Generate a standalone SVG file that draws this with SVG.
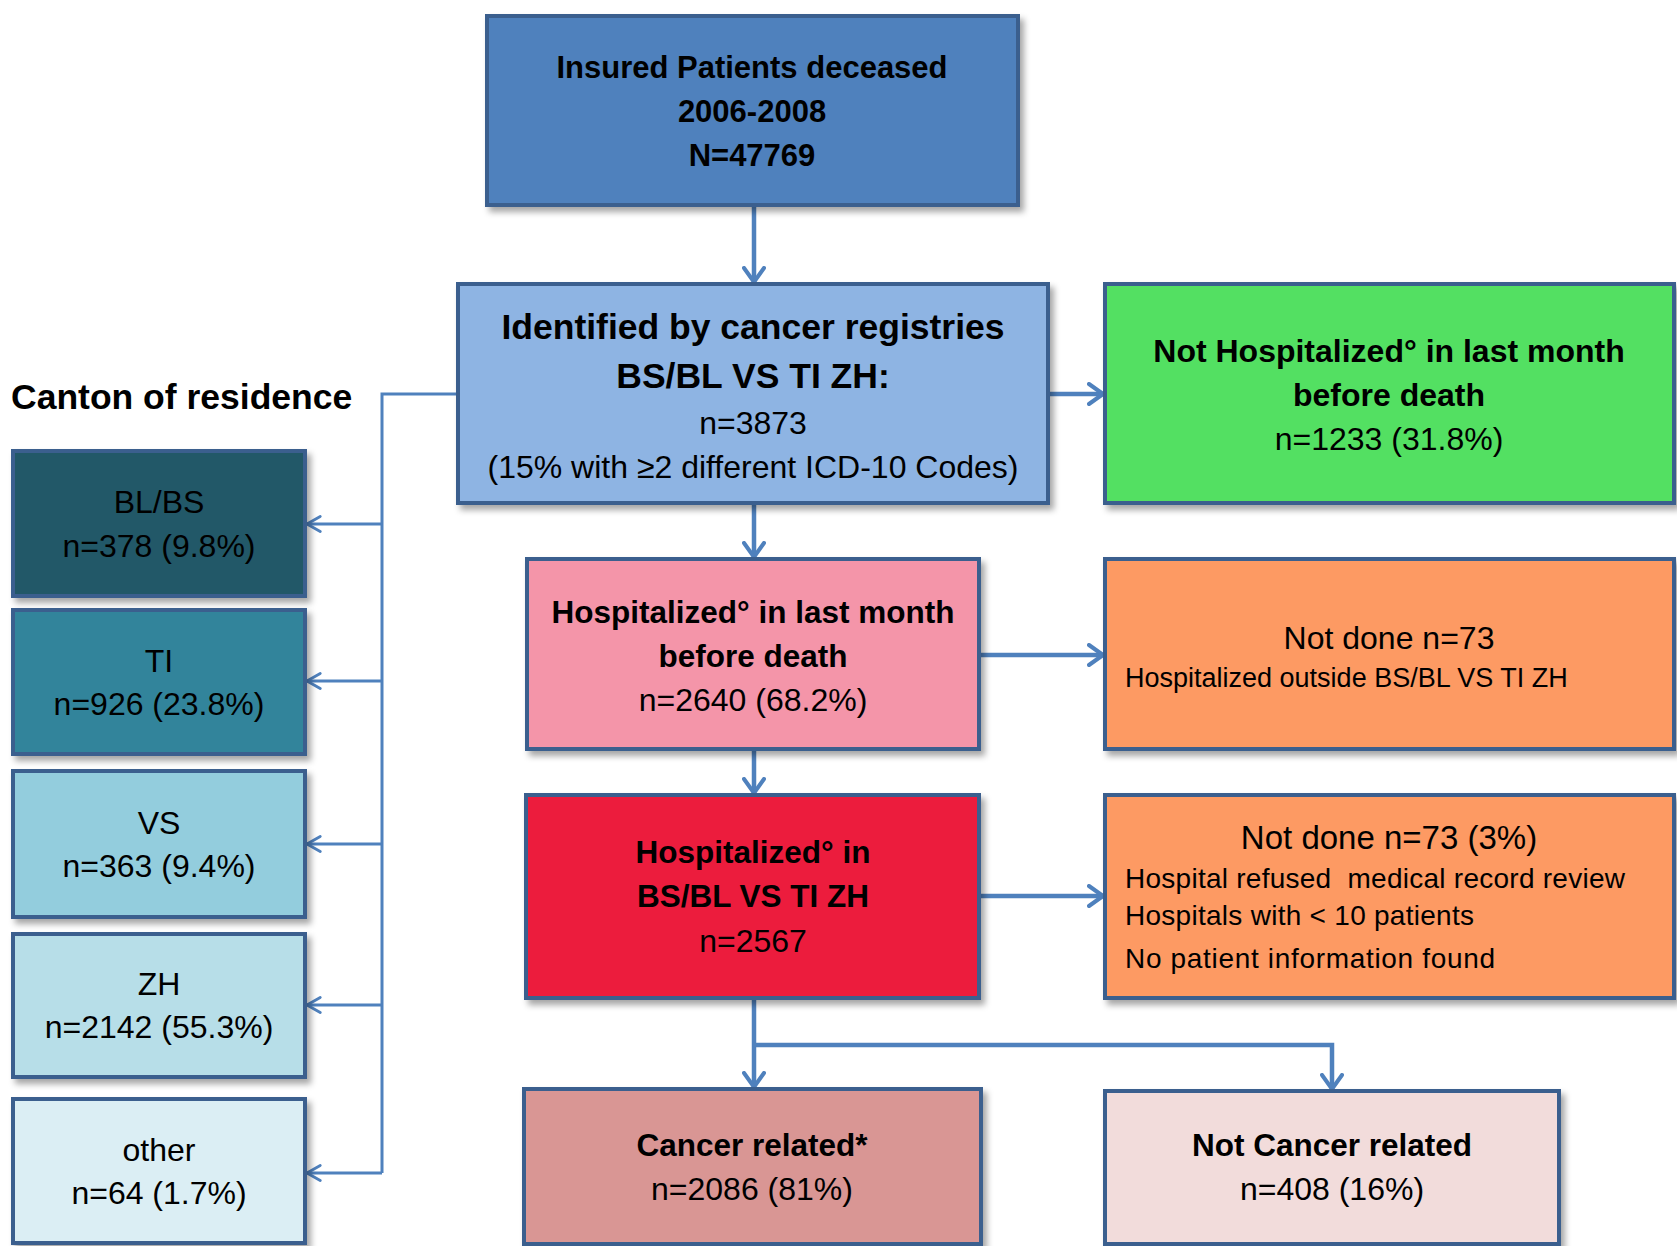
<svg xmlns="http://www.w3.org/2000/svg" width="1677" height="1246" viewBox="0 0 1677 1246">
<style>
.box{stroke:#3b5f8e;stroke-width:4;filter:url(#sh)}
.t{font-family:"Liberation Sans",Arial,sans-serif;fill:#000;text-anchor:middle}
.b{font-weight:bold}
.l{text-anchor:start}
.c{fill:none;stroke:#4f81bd;stroke-width:4.5}
.cl{fill:none;stroke:#4f81bd;stroke-width:3}
</style>
<defs>
<filter id="sh" x="-10%" y="-10%" width="125%" height="130%">
<feDropShadow dx="4" dy="5" stdDeviation="3" flood-color="#000" flood-opacity="0.35"/>
</filter>
<marker id="a" viewBox="0 0 18 24" refX="16" refY="12" markerWidth="18" markerHeight="24" markerUnits="userSpaceOnUse" orient="auto">
<path d="M2,2 L16,12 L2,22" fill="none" stroke="#4f81bd" stroke-width="4" stroke-linecap="round" stroke-linejoin="round"/>
</marker>
<marker id="s" viewBox="0 0 18 22" refX="16" refY="11" markerWidth="17" markerHeight="21" markerUnits="userSpaceOnUse" orient="auto">
<path d="M2,3 L16,11 L2,19" fill="none" stroke="#4f81bd" stroke-width="3" stroke-linecap="round" stroke-linejoin="round"/>
</marker>
</defs>

<g id="connectors">
<path class="c" d="M754,205 V282" marker-end="url(#a)"/>
<path class="c" d="M754,503 V557" marker-end="url(#a)"/>
<path class="c" d="M754,749 V793" marker-end="url(#a)"/>
<path class="c" d="M754,998 V1087" marker-end="url(#a)"/>
<path class="c" d="M754,1045 H1332 V1089" marker-end="url(#a)"/>
<path class="c" d="M1048,394 H1103" marker-end="url(#a)"/>
<path class="c" d="M979,655 H1103" marker-end="url(#a)"/>
<path class="c" d="M979,896 H1103" marker-end="url(#a)"/>
<path class="cl" d="M458,394 H382 V1173"/>
<path class="cl" d="M382,524 H307" marker-end="url(#s)"/>
<path class="cl" d="M382,681 H307" marker-end="url(#s)"/>
<path class="cl" d="M382,844 H307" marker-end="url(#s)"/>
<path class="cl" d="M382,1005 H307" marker-end="url(#s)"/>
<path class="cl" d="M382,1173 H307" marker-end="url(#s)"/>
</g>

<g id="n-top">
<rect class="box" x="487" y="16" width="531" height="189" fill="#4f81bd"/>
<text class="t b" x="752" y="78" font-size="31">Insured Patients deceased</text>
<text class="t b" x="752" y="122" font-size="31">2006-2008</text>
<text class="t b" x="752" y="166" font-size="31">N=47769</text>
</g>

<g id="n-identified">
<rect class="box" x="458" y="284" width="590" height="219" fill="#8eb4e3"/>
<text class="t b" x="753" y="339" font-size="35.5">Identified by cancer registries</text>
<text class="t b" x="753" y="388" font-size="35.5">BS/BL VS TI ZH:</text>
<text class="t" x="753" y="434" font-size="32">n=3873</text>
<text class="t" x="753" y="478" font-size="32">(15% with ≥2 different ICD-10 Codes)</text>
</g>

<g id="n-canton-label">
<text class="t b l" x="11" y="409" font-size="35.5">Canton of residence</text>
</g>

<g id="n-notHosp">
<rect class="box" x="1105" y="284" width="569" height="219" fill="#52e062"/>
<text class="t b" x="1389" y="362" font-size="32">Not Hospitalized° in last month</text>
<text class="t b" x="1389" y="406" font-size="32">before death</text>
<text class="t" x="1389" y="450" font-size="32">n=1233 (31.8%)</text>
</g>

<g id="n-blbs">
<rect class="box" x="13" y="451" width="292" height="145" fill="#215968" stroke="#264f7e"/>
<text class="t" x="159" y="513" font-size="32">BL/BS</text>
<text class="t" x="159" y="557" font-size="32">n=378 (9.8%)</text>
</g>
<g id="n-ti">
<rect class="box" x="13" y="610" width="292" height="144" fill="#31849b"/>
<text class="t" x="159" y="672" font-size="32">TI</text>
<text class="t" x="159" y="715" font-size="32">n=926 (23.8%)</text>
</g>
<g id="n-vs">
<rect class="box" x="13" y="771" width="292" height="146" fill="#93cddd"/>
<text class="t" x="159" y="834" font-size="32">VS</text>
<text class="t" x="159" y="877" font-size="32">n=363 (9.4%)</text>
</g>
<g id="n-zh">
<rect class="box" x="13" y="934" width="292" height="143" fill="#b7dee8"/>
<text class="t" x="159" y="995" font-size="32">ZH</text>
<text class="t" x="159" y="1038" font-size="32">n=2142 (55.3%)</text>
</g>
<g id="n-other">
<rect class="box" x="13" y="1099" width="292" height="144" fill="#dbeef4"/>
<text class="t" x="159" y="1161" font-size="32">other</text>
<text class="t" x="159" y="1204" font-size="32">n=64 (1.7%)</text>
</g>

<g id="n-hosp">
<rect class="box" x="527" y="559" width="452" height="190" fill="#f495a9"/>
<text class="t b" x="753" y="623" font-size="31.5">Hospitalized° in last month</text>
<text class="t b" x="753" y="667" font-size="31.5">before death</text>
<text class="t" x="753" y="711" font-size="32">n=2640 (68.2%)</text>
</g>

<g id="n-notdone1">
<rect class="box" x="1105" y="559" width="569" height="190" fill="#fd9a64"/>
<text class="t" x="1389" y="649" font-size="32">Not done n=73</text>
<text class="t l" x="1125" y="687" font-size="27">Hospitalized outside BS/BL VS TI ZH</text>
</g>

<g id="n-hospIn">
<rect class="box" x="526" y="795" width="453" height="203" fill="#ec1b3e"/>
<text class="t b" x="753" y="863" font-size="31.5">Hospitalized° in</text>
<text class="t b" x="753" y="907" font-size="31.5">BS/BL VS TI ZH</text>
<text class="t" x="753" y="952" font-size="32">n=2567</text>
</g>

<g id="n-notdone2">
<rect class="box" x="1105" y="795" width="569" height="203" fill="#fd9a64"/>
<text class="t" x="1389" y="849" font-size="33">Not done n=73 (3%)</text>
<text class="t l" x="1125" y="888" font-size="28" textLength="500" xml:space="preserve">Hospital refused  medical record review</text>
<text class="t l" x="1125" y="925" font-size="28" textLength="349">Hospitals with &lt; 10 patients</text>
<text class="t l" x="1125" y="968" font-size="28" textLength="370">No patient information found</text>
</g>

<g id="n-cancer">
<rect class="box" x="524" y="1089" width="457" height="155" fill="#d99694"/>
<text class="t b" x="752" y="1156" font-size="31.5">Cancer related*</text>
<text class="t" x="752" y="1200" font-size="32">n=2086 (81%)</text>
</g>

<g id="n-notcancer">
<rect class="box" x="1105" y="1091" width="454" height="153" fill="#f2dcdb"/>
<text class="t b" x="1332" y="1156" font-size="31.5">Not Cancer related</text>
<text class="t" x="1332" y="1200" font-size="32">n=408 (16%)</text>
</g>
</svg>
